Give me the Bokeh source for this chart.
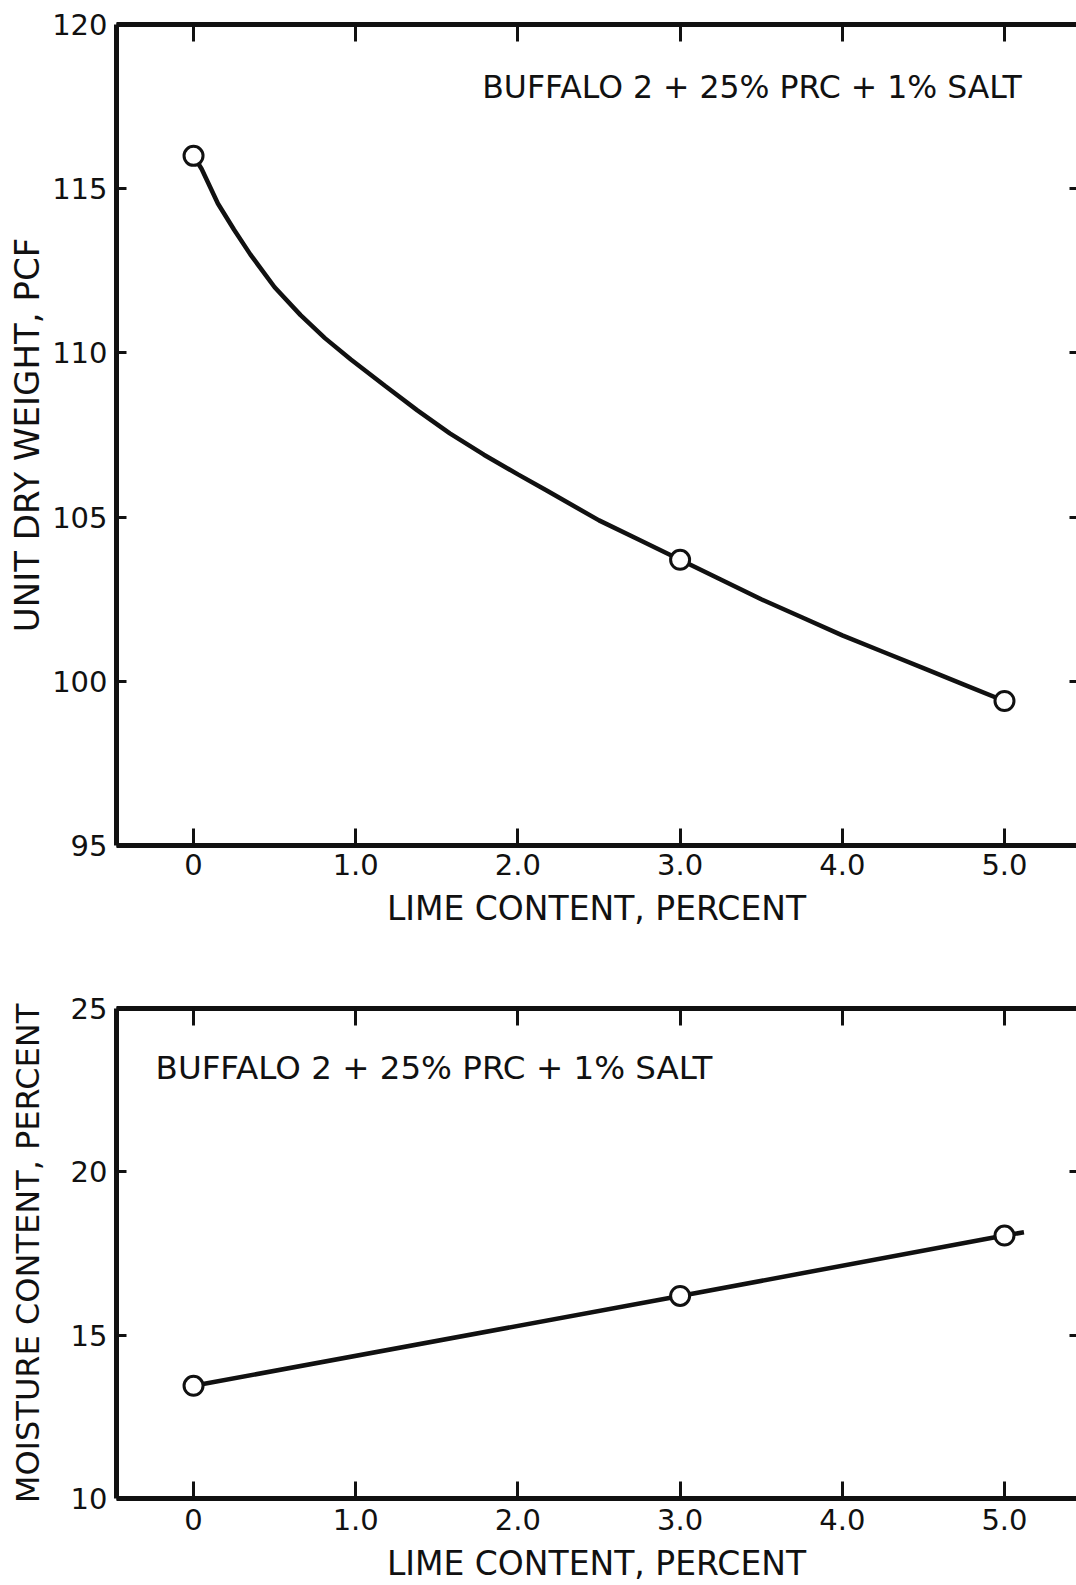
from bokeh.plotting import figure
from bokeh.models import LinearAxis, FixedTicker, Range1d, CustomLabelingPolicy
from bokeh.layouts import column
from bokeh.embed import file_html
from bokeh.resources import INLINE
from bokeh.core.properties import value

# ---------------- data ----------------
lime_points = [0, 3, 5]
dry_weight_points = [116.0, 103.7, 99.4]
dry_curve_x = [0, 0.05, 0.15, 0.25, 0.35, 0.5, 0.66, 0.81, 0.97, 1.18, 1.38, 1.58, 1.79,
               2.0, 2.18, 2.5, 2.75, 3.0, 3.25, 3.5, 3.75, 4.0, 4.25, 4.5, 4.75, 5.0]
dry_curve_y = [116.0, 115.6, 114.55, 113.75, 113.0, 112.0, 111.15, 110.45, 109.8, 109.0,
               108.25, 107.55, 106.9, 106.3, 105.8, 104.9, 104.3, 103.7, 103.1, 102.5,
               101.95, 101.4, 100.9, 100.4, 99.9, 99.4]

moisture_points = [13.45, 16.2, 18.05]
moisture_line_x = [0, 3, 5, 5.12]
moisture_line_y = [13.45, 16.2, 18.05, 18.15]

x_ticks = [0, 1, 2, 3, 4, 5]
x_tick_labels = ["0", "1.0", "2.0", "3.0", "4.0", "5.0"]
dry_ticks = [95, 100, 105, 110, 115, 120]
moist_ticks = [10, 15, 20, 25]

annotation = "BUFFALO 2 + 25% PRC + 1% SALT"
x_label = "LIME CONTENT, PERCENT"
dry_label = "UNIT DRY WEIGHT, PCF"
moist_label = "MOISTURE CONTENT, PERCENT"

FONT = "DejaVu Sans"
INK = "#111111"

NO_LABELS = "const n = indices.size; for (let i = 0; i < n; i++) { indices.unset(i) } return indices"


def make_fig(height, top_border, bottom_border, yr, yticks, ylabel, ylabel_size,
             ylabel_standoff, xtick_standoff, xlabel_standoff):
    p = figure(width=1076, height=height,
               x_range=Range1d(-0.475, 5.444), y_range=Range1d(*yr),
               output_backend="svg", toolbar_location=None,
               min_border_left=116, min_border_right=0,
               min_border_top=top_border, min_border_bottom=bottom_border)
    p.outline_line_color = None
    p.grid.visible = False
    p.background_fill_color = "white"
    p.border_fill_color = "white"

    xa = p.below[0]
    xa.ticker = FixedTicker(ticks=x_ticks)
    xa.major_label_overrides = {t: l for t, l in zip(x_ticks, x_tick_labels)}
    xa.minor_tick_line_color = None
    xa.major_tick_in = 17
    xa.major_tick_out = 0
    xa.major_tick_line_width = 3
    xa.major_tick_line_color = INK
    xa.axis_line_width = 5
    xa.axis_line_color = INK
    xa.major_label_text_font = FONT
    xa.major_label_text_font_size = "29px"
    xa.major_label_text_color = INK
    xa.major_label_standoff = xtick_standoff
    xa.axis_label = x_label
    xa.axis_label_text_font = FONT
    xa.axis_label_text_font_style = "normal"
    xa.axis_label_text_font_size = "33px"
    xa.axis_label_text_color = INK
    xa.axis_label_standoff = xlabel_standoff

    ya = p.left[0]
    ya.ticker = FixedTicker(ticks=yticks)
    ya.minor_tick_line_color = None
    ya.major_tick_in = 10
    ya.major_tick_out = 0
    ya.major_tick_line_width = 3
    ya.major_tick_line_color = INK
    ya.axis_line_width = 5
    ya.axis_line_color = INK
    ya.major_label_text_font = FONT
    ya.major_label_text_font_size = "29px"
    ya.major_label_text_color = INK
    ya.major_label_standoff = 9
    ya.axis_label = ylabel
    ya.axis_label_text_font = FONT
    ya.axis_label_text_font_style = "normal"
    ya.axis_label_text_font_size = ylabel_size
    ya.axis_label_text_color = INK
    ya.axis_label_standoff = ylabel_standoff

    top = LinearAxis(ticker=FixedTicker(ticks=x_ticks))
    top.minor_tick_line_color = None
    top.major_tick_in = 17
    top.major_tick_out = 0
    top.major_tick_line_width = 3
    top.major_tick_line_color = INK
    top.axis_line_width = 5
    top.axis_line_color = INK
    top.major_label_text_font_size = "0px"
    top.major_label_standoff = 0
    top.major_label_policy = CustomLabelingPolicy(code=NO_LABELS)
    p.add_layout(top, "above")

    right = LinearAxis(ticker=FixedTicker(ticks=yticks))
    right.minor_tick_line_color = None
    right.major_tick_in = 7
    right.major_tick_out = 0
    right.major_tick_line_width = 3
    right.major_tick_line_color = INK
    right.axis_line_color = None
    right.major_label_text_font_size = "0px"
    right.major_label_standoff = 0
    right.major_label_policy = CustomLabelingPolicy(code=NO_LABELS)
    p.add_layout(right, "right")
    return p


# ---------------- top panel ----------------
p1 = make_fig(940, 24, 95, (95, 120), dry_ticks, dry_label, "34px", 2, 8, 11)
p1.line(dry_curve_x, dry_curve_y, line_width=4.5, line_color=INK)
p1.scatter(lime_points, dry_weight_points, size=19, marker="circle",
           fill_color="white", line_color=INK, line_width=3)
p1.text(x=[1.78], y=[118.11], text=[annotation], text_font=value(FONT),
        text_font_size="31.5px", text_align="left", text_baseline="middle",
        text_color=INK)

# ---------------- bottom panel ----------------
p2 = make_fig(645, 68, 87, (10, 25), moist_ticks, moist_label, "32px", 21, 10, 11)
p2.line(moisture_line_x, moisture_line_y, line_width=4.5, line_color=INK)
p2.scatter(lime_points, moisture_points, size=19, marker="circle",
           fill_color="white", line_color=INK, line_width=3)
p2.text(x=[-0.234], y=[23.19], text=[annotation], text_font=value(FONT),
        text_font_size="32.5px", text_align="left", text_baseline="middle",
        text_color=INK)

layout = column(p1, p2, spacing=0)
open("out.html", "w").write(file_html(layout, INLINE))
